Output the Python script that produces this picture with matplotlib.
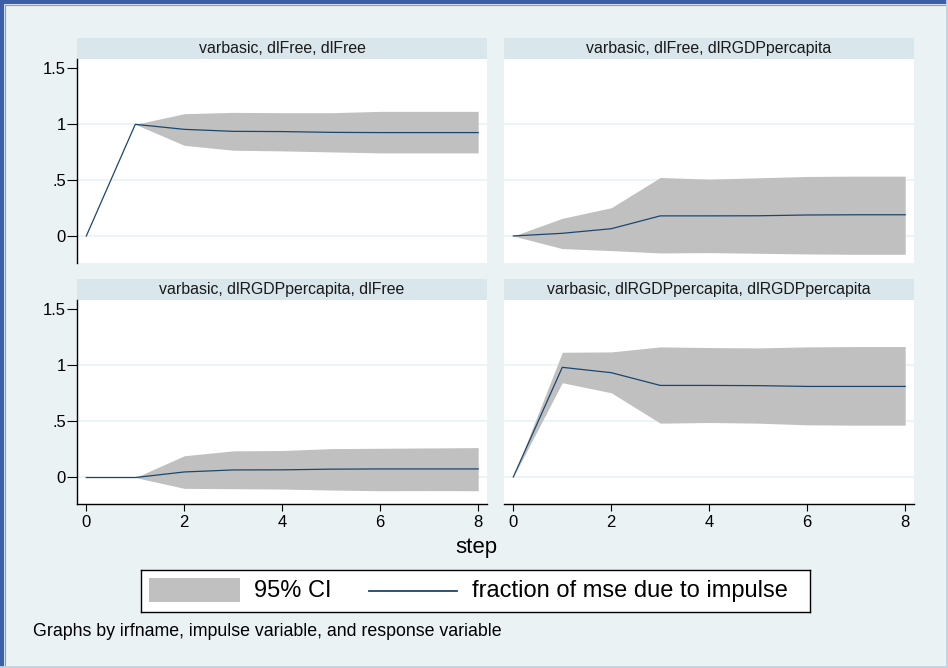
import numpy as np
from matplotlib import pyplot as plt
from matplotlib.patches import Rectangle
from matplotlib.lines import Line2D

plt.rcParams['font.family'] = ['Liberation Sans', 'DejaVu Sans']

# Stata s2color palette
COLORS = {
    'graph_bg': '#eaf2f3',
    'strip_bg': '#d9e6eb',
    'plot_bg': '#ffffff',
    'grid': '#eaf2f3',
    'ci': '#c0c0c0',
    'line': '#1a476f',
    'frame_blue': '#3b5fa8',
}

W, H = 948, 668

steps = [0, 1, 2, 3, 4, 5, 6, 7, 8]

titles = [
    'varbasic, dlFree, dlFree',
    'varbasic, dlFree, dlRGDPpercapita',
    'varbasic, dlRGDPpercapita, dlFree',
    'varbasic, dlRGDPpercapita, dlRGDPpercapita',
]

# fraction of mse due to impulse
fevd_free_free = [0, 1.0, 0.955, 0.937, 0.935, 0.928, 0.926, 0.926, 0.926]
fevd_free_gdp = [0, 0.024, 0.065, 0.180, 0.180, 0.181, 0.188, 0.190, 0.190]
fevd_gdp_free = [-0.005, -0.005, 0.045, 0.063, 0.064, 0.070, 0.072, 0.072, 0.072]
fevd_gdp_gdp = [0, 0.982, 0.934, 0.820, 0.820, 0.818, 0.811, 0.811, 0.811]

# 95% CI bounds
lo_free_free = [0, 1.0, 0.812, 0.768, 0.762, 0.753, 0.744, 0.744, 0.744]
hi_free_free = [0, 1.0, 1.095, 1.107, 1.104, 1.104, 1.116, 1.116, 1.116]
lo_free_gdp = [0, -0.113, -0.131, -0.152, -0.149, -0.155, -0.161, -0.164, -0.164]
hi_free_gdp = [0, 0.158, 0.253, 0.524, 0.509, 0.521, 0.533, 0.536, 0.536]
lo_gdp_free = [-0.005, -0.005, -0.102, -0.105, -0.108, -0.117, -0.123, -0.122, -0.123]
hi_gdp_free = [-0.005, -0.005, 0.190, 0.234, 0.237, 0.254, 0.257, 0.260, 0.263]
lo_gdp_gdp = [0, 0.844, 0.754, 0.482, 0.488, 0.482, 0.467, 0.464, 0.464]
hi_gdp_gdp = [0, 1.117, 1.120, 1.165, 1.159, 1.156, 1.165, 1.168, 1.168]

series = [
    (fevd_free_free, lo_free_free, hi_free_free),
    (fevd_free_gdp, lo_free_gdp, hi_free_gdp),
    (fevd_gdp_free, lo_gdp_free, hi_gdp_free),
    (fevd_gdp_gdp, lo_gdp_gdp, hi_gdp_gdp),
]

yticks = [0, 0.5, 1, 1.5]
ytick_labels = ['0', '.5', '1', '1.5']
grid_levels = [0, 0.5, 1]
xticks = [0, 2, 4, 6, 8]


def px(x0, y0, x1, y1):
    """pixel box (top-left origin) -> figure fraction rect"""
    return [x0 / W, 1 - y1 / H, (x1 - x0) / W, (y1 - y0) / H]


fig = plt.figure(figsize=(W / 100, H / 100), dpi=100, facecolor=COLORS['graph_bg'])

# panel boxes in pixels: (left, top of strip, top of plot, right, bottom)
boxes = [
    (77, 38, 59, 487, 263),
    (504, 38, 59, 914, 263),
    (77, 279, 300, 487, 504),
    (504, 279, 300, 914, 504),
]

for i, (x0, ys, y0, x1, y1) in enumerate(boxes):
    # strip header
    sax = fig.add_axes(px(x0, ys, x1, y0))
    sax.set_facecolor(COLORS['strip_bg'])
    sax.set_xticks([])
    sax.set_yticks([])
    for s in sax.spines.values():
        s.set_visible(False)
    sax.text(0.5, 0.5, titles[i], ha='center', va='center', fontsize=11.4,
             color='#1a1a1a', transform=sax.transAxes)

    ax = fig.add_axes(px(x0, y0, x1, y1))
    ax.set_facecolor(COLORS['plot_bg'])
    vals, lo, hi = series[i]
    for g in grid_levels:
        ax.axhline(g, color=COLORS['grid'], linewidth=1.2, zorder=1)
    ax.fill_between(steps, lo, hi, color=COLORS['ci'], linewidth=0, zorder=2)
    ax.plot(steps, vals, color=COLORS['line'], linewidth=0.9, zorder=3)
    ax.set_xlim(-0.19, 8.18)
    ax.set_ylim(-0.242, 1.585)
    ax.set_yticks(yticks)
    ax.set_xticks(xticks)

    for s in ['top', 'right']:
        ax.spines[s].set_visible(False)

    left_col = i % 2 == 0
    bottom_row = i >= 2
    if left_col:
        ax.spines['left'].set_color('#000000')
        ax.spines['left'].set_linewidth(1.0)
        ax.set_yticklabels(ytick_labels, fontsize=12)
        ax.tick_params(axis='y', length=7, width=0.8, pad=1, colors='#000000')
    else:
        ax.spines['left'].set_visible(False)
        ax.tick_params(axis='y', length=0, labelleft=False)
    if bottom_row:
        ax.spines['bottom'].set_color('#000000')
        ax.spines['bottom'].set_linewidth(1.0)
        ax.set_xticklabels([str(t) for t in xticks], fontsize=12)
        ax.tick_params(axis='x', length=5, width=0.8, pad=3, colors='#000000')
    else:
        ax.spines['bottom'].set_visible(False)
        ax.tick_params(axis='x', length=0, labelbottom=False)

# common x title
fig.text(476 / W, 1 - 548 / H, 'step', ha='center', va='center', fontsize=16)

# legend box
lax = fig.add_axes(px(141, 570, 810, 612))
lax.set_xlim(141, 810)
lax.set_ylim(612, 570)
lax.set_facecolor('#ffffff')
lax.set_xticks([])
lax.set_yticks([])
for s in lax.spines.values():
    s.set_color('#000000')
    s.set_linewidth(1.0)
lax.add_patch(Rectangle((149, 578), 91, 24, facecolor=COLORS['ci'], edgecolor='none'))
lax.text(254, 591, '95% CI', ha='left', va='center', fontsize=17)
lax.plot([369, 457], [591, 591], color=COLORS['line'], linewidth=1.3)
lax.text(472, 591, 'fraction of mse due to impulse', ha='left', va='center', fontsize=17)

# note
fig.text(33 / W, 1 - 632 / H, 'Graphs by irfname, impulse variable, and response variable',
         ha='left', va='center', fontsize=12.8)

# window frame
fig.add_artist(Line2D([2 / W, 2 / W], [0, 1 - 2 / H], color=COLORS['frame_blue'], linewidth=3))
fig.add_artist(Line2D([0, 1], [1 - 2 / H, 1 - 2 / H], color=COLORS['frame_blue'], linewidth=3))
fig.add_artist(Line2D([4.5 / W, 4.5 / W], [0, 1 - 4.5 / H], color='#9a9a9a', linewidth=0.8))
fig.add_artist(Line2D([4.5 / W, 1], [1 - 4.5 / H, 1 - 4.5 / H], color='#9a9a9a', linewidth=0.8))
fig.add_artist(Line2D([0, 1], [1.5 / H, 1.5 / H], color='#c5d2e0', linewidth=2))
fig.add_artist(Line2D([1 - 1.5 / W, 1 - 1.5 / W], [0, 1], color='#c5d2e0', linewidth=2))

fig.savefig('out.png', dpi=100, facecolor=fig.get_facecolor())
plt.close(fig)
